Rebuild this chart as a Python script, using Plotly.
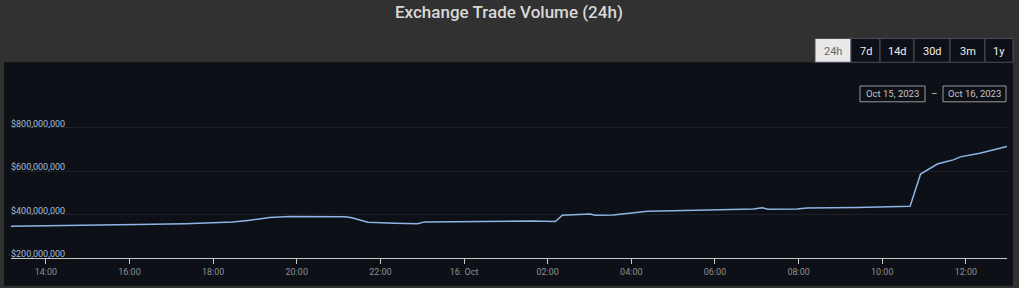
import plotly.graph_objects as go

times = [
    "2023-10-15 13:10", "2023-10-15 14:20", "2023-10-15 15:17", "2023-10-15 16:10",
    "2023-10-15 17:20", "2023-10-15 18:15", "2023-10-15 18:28", "2023-10-15 18:53",
    "2023-10-15 19:21", "2023-10-15 19:50", "2023-10-15 20:33", "2023-10-15 21:09",
    "2023-10-15 21:19", "2023-10-15 21:42", "2023-10-15 22:21", "2023-10-15 22:53",
    "2023-10-15 23:04", "2023-10-15 23:54", "2023-10-16 00:37", "2023-10-16 01:35",
    "2023-10-16 02:11", "2023-10-16 02:21", "2023-10-16 03:01", "2023-10-16 03:08",
    "2023-10-16 03:34", "2023-10-16 04:13", "2023-10-16 04:23", "2023-10-16 05:34",
    "2023-10-16 06:55", "2023-10-16 07:08", "2023-10-16 07:16", "2023-10-16 07:58",
    "2023-10-16 08:12", "2023-10-16 09:24", "2023-10-16 10:40", "2023-10-16 10:55",
    "2023-10-16 11:05", "2023-10-16 11:19", "2023-10-16 11:34", "2023-10-16 11:42",
    "2023-10-16 11:52", "2023-10-16 12:20", "2023-10-16 12:59",
]
volume_musd = [
    346, 348, 351, 354,
    358, 362, 365, 374,
    386, 391, 392, 390,
    385, 364, 360, 358,
    366, 368, 370, 370,
    368, 397, 402, 397,
    398, 409, 415, 420,
    425, 431, 424, 425,
    430, 432, 438, 586,
    606, 632, 645, 651,
    665, 682, 713,
]
volume = [v * 1_000_000 for v in volume_musd]

x_tick_vals = [
    "2023-10-15 14:00", "2023-10-15 16:00", "2023-10-15 18:00", "2023-10-15 20:00",
    "2023-10-15 22:00", "2023-10-16 00:00", "2023-10-16 02:00", "2023-10-16 04:00",
    "2023-10-16 06:00", "2023-10-16 08:00", "2023-10-16 10:00", "2023-10-16 12:00",
]
x_tick_text = ["14:00", "16:00", "18:00", "20:00", "22:00", "16. Oct",
               "02:00", "04:00", "06:00", "08:00", "10:00", "12:00"]
y_tick_vals = [200_000_000, 400_000_000, 600_000_000, 800_000_000]

range_buttons = ["24h", "7d", "14d", "30d", "3m", "1y"]
date_from = "Oct 15, 2023"
date_to = "Oct 16, 2023"
title = "Exchange Trade Volume (24h)"

W, H = 1019, 288
ML, MR, MT, MB = 11, 12, 84, 28
PW, PH = W - ML - MR, H - MT - MB


def px(x):
    return (x - ML) / PW


def py(y):
    return (H - MB - y) / PH


fig = go.Figure()
fig.add_trace(go.Scatter(
    x=times, y=volume, mode="lines",
    line=dict(color="#8fb5e6", width=1.5),
    hoverinfo="skip", showlegend=False,
))

shapes = []
annotations = []

# dark chart panel
shapes.append(dict(type="rect", xref="paper", yref="paper",
                   x0=px(4), x1=px(1013), y0=py(288), y1=py(62),
                   fillcolor="#0d1117", line=dict(width=0), layer="below"))

# title
annotations.append(dict(text=title, xref="paper", yref="paper",
                        x=px(509), y=py(11), xanchor="center", yanchor="middle",
                        showarrow=False,
                        font=dict(family="Roboto", size=17, color="#d8d8d8", weight=500)))

# y tick labels, drawn inside the plot just above each gridline
for v in y_tick_vals:
    annotations.append(dict(text="${:,.0f}".format(v), xref="paper", yref="y",
                            x=0, y=v, xanchor="left", yanchor="bottom", yshift=-3, xshift=-2,
                            showarrow=False,
                            font=dict(family="Roboto", size=9, color="#a3bddc")))

# range buttons
btn_edges = [815, 851, 880, 914, 950, 985, 1013]
for i, lab in enumerate(range_buttons):
    x0, x1 = btn_edges[i], btn_edges[i + 1]
    sel = i == 0
    shapes.append(dict(type="rect", xref="paper", yref="paper",
                       x0=px(x0), x1=px(x1), y0=py(62), y1=py(38),
                       fillcolor="#e9e9e9" if sel else "#0d1117",
                       line=dict(color="#4a4f57", width=1), layer="above"))
    annotations.append(dict(text=lab, xref="paper", yref="paper",
                            x=px((x0 + x1) / 2), y=py(51), xanchor="center", yanchor="middle",
                            showarrow=False,
                            font=dict(family="Roboto", size=11,
                                      color="#666666" if sel else "#f0f0f0")))

# date range boxes
for (x0, x1, txt) in [(860, 925, date_from), (943, 1006, date_to)]:
    shapes.append(dict(type="rect", xref="paper", yref="paper",
                       x0=px(x0), x1=px(x1), y0=py(102), y1=py(86),
                       fillcolor="rgba(0,0,0,0)", line=dict(color="#9a9a9a", width=1),
                       layer="above"))
    annotations.append(dict(text=txt, xref="paper", yref="paper",
                            x=px((x0 + x1) / 2), y=py(94), xanchor="center", yanchor="middle",
                            showarrow=False,
                            font=dict(family="Roboto", size=9.5, color="#c4c4c4")))
annotations.append(dict(text="–", xref="paper", yref="paper",
                        x=px(934), y=py(94), xanchor="center", yanchor="middle",
                        showarrow=False, font=dict(family="Roboto", size=10, color="#bbbbbb")))

fig.update_layout(
    width=W, height=H,
    margin=dict(l=ML, r=MR, t=MT, b=MB, pad=0),
    paper_bgcolor="#313131",
    plot_bgcolor="#0d1117",
    shapes=shapes,
    annotations=annotations,
    xaxis=dict(
        type="date",
        range=["2023-10-15 13:10", "2023-10-16 12:59"],
        tickvals=x_tick_vals, ticktext=x_tick_text,
        showgrid=False, zeroline=False,
        showline=True, linecolor="#c6c6c6", linewidth=1,
        ticks="outside", ticklen=5, tickcolor="#c6c6c6", tickwidth=1,
        tickfont=dict(family="Roboto", size=9, color="#8f8f8f"),
        fixedrange=True,
    ),
    yaxis=dict(
        range=[200_000_000, 1_000_000_000],
        tickvals=y_tick_vals,
        showticklabels=False,
        showgrid=True, gridcolor="#1c2129", gridwidth=1,
        zeroline=False, showline=False, ticks="",
        fixedrange=True,
    ),
    showlegend=False,
)

fig.write_html("out.html", config={"displayModeBar": False})
